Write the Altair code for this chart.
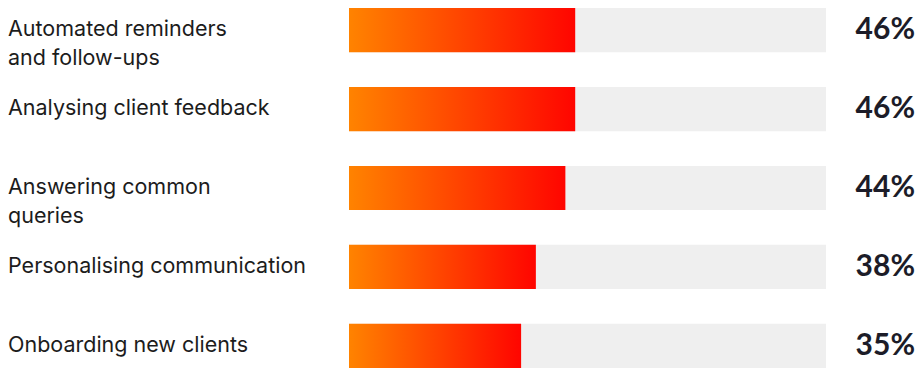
import altair as alt
import pandas as pd

categories = [
    "Automated reminders and follow-ups",
    "Analysing client feedback",
    "Answering common queries",
    "Personalising communication",
    "Onboarding new clients",
]
label_lines = [
    "Automated reminders\nand follow-ups",
    "Analysing client feedback",
    "Answering common\nqueries",
    "Personalising communication",
    "Onboarding new clients",
]
values = [46, 46, 44, 38, 35]
track_max = 97

df = pd.DataFrame({
    "cat": categories,
    "label": label_lines,
    "value": values,
    "track": [track_max] * len(values),
    "pct": [f"{v}%" for v in values],
})

y = alt.Y("cat:N", sort=categories, axis=None,
          scale=alt.Scale(paddingInner=0.44, paddingOuter=0))
xs = alt.Scale(domain=[0, track_max], range=[341, 818])

base = alt.Chart(df)

track = base.mark_bar(color="#EFEFEF").encode(
    x=alt.X("track:Q", scale=xs, axis=None), y=y)

grad = alt.Gradient(
    gradient="linear",
    stops=[alt.GradientStop(color="#FF8300", offset=0),
           alt.GradientStop(color="#FF0500", offset=1)],
    x1=0, x2=1, y1=0, y2=0)

bars = base.mark_bar(color=grad).encode(
    x=alt.X("value:Q", scale=xs, axis=None), y=y)

labels = base.mark_text(align="left", baseline="middle", font="Inter",
                        fontSize=21.5, color="#1c1c1c", lineBreak="\n",
                        lineHeight=29, dy=0).encode(
    x=alt.value(0), y=y, text="label:N")

pcts = base.mark_text(align="right", baseline="middle", font="Lato",
                      fontWeight="bold", fontSize=30, color="#1c1c28").encode(
    x=alt.value(907), y=y, text="pct:N")

chart = alt.layer(track, bars, labels, pcts).properties(
    width=907, height=360, padding=0
).configure_view(stroke=None)

chart.save("out.html", embed_options={"renderer": "svg", "actions": False})
